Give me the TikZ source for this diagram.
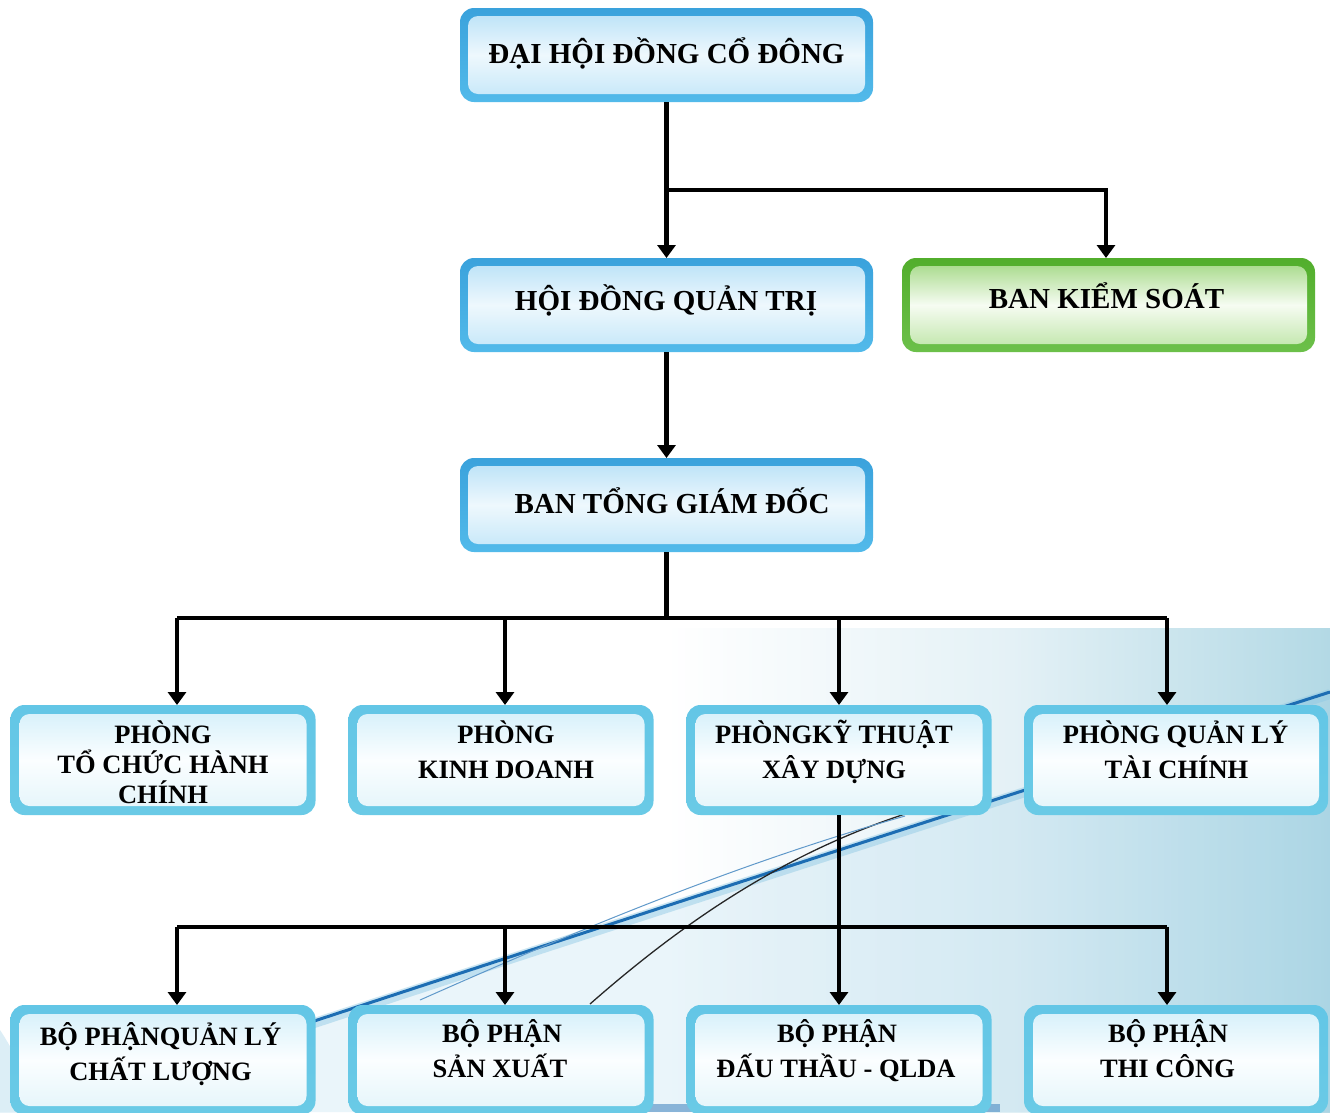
\documentclass[tikz,border=0pt]{standalone}
\usepackage{fontspec}
\setmainfont{Liberation Serif}
\usetikzlibrary{arrows.meta,calc}
\definecolor{mbt}{HTML}{3AA2DC}
\definecolor{mbb}{HTML}{52BAEA}
\definecolor{mit}{HTML}{B6E0F7}
\definecolor{mim}{HTML}{EEF8FD}
\definecolor{mib}{HTML}{C2E6F9}
\definecolor{rbt}{HTML}{63C6E6}
\definecolor{rbb}{HTML}{6ACAE6}
\definecolor{rit}{HTML}{D2EFFA}
\definecolor{rim}{HTML}{FBFEFF}
\definecolor{rib}{HTML}{E2F4FA}
\definecolor{gbt}{HTML}{52AE2C}
\definecolor{gbb}{HTML}{6CC04A}
\definecolor{git}{HTML}{9ED67E}
\definecolor{gim}{HTML}{F6FCF2}
\definecolor{gib}{HTML}{BCE4A4}
\definecolor{bgB}{HTML}{E4F1F6}
\definecolor{bgC}{HTML}{B3D9E5}
\definecolor{swoosh}{HTML}{1C6DB3}
\definecolor{glow}{HTML}{8CC8E4}
\pgfdeclarehorizontalshading{bgsh}{100bp}{color(0bp)=(white); color(25bp)=(white); color(50bp)=(white); color(63bp)=(bgB); color(75bp)=(bgC); color(100bp)=(bgC)}
\tikzset{
  box/.style={rounded corners=14pt, inner sep=0pt, outer sep=0pt},
  mainbox/.style={box, minimum width=413pt, minimum height=94pt,
    top color=mbt, bottom color=mbb,
    path picture={\shade[top color=mit, bottom color=mib, middle color=mim, rounded corners=10pt]
      ([shift={(8pt,-8pt)}]path picture bounding box.north west) rectangle
      ([shift={(-8pt,8pt)}]path picture bounding box.south east);}},
  greenbox/.style={box, minimum width=413pt, minimum height=94pt,
    top color=gbt, bottom color=gbb,
    path picture={\shade[top color=git, bottom color=gib, middle color=gim, rounded corners=10pt]
      ([shift={(8pt,-8pt)}]path picture bounding box.north west) rectangle
      ([shift={(-8pt,8pt)}]path picture bounding box.south east);}},
  rowbox/.style={box, minimum width=305pt, minimum height=110pt,
    top color=rbt, bottom color=rbb,
    path picture={\shade[top color=rit, bottom color=rib, middle color=rim, rounded corners=10pt]
      ([shift={(9pt,-9pt)}]path picture bounding box.north west) rectangle
      ([shift={(-9pt,9pt)}]path picture bounding box.south east);}},
  mlbl/.style={font=\bfseries\fontsize{29}{35}\selectfont, inner sep=0pt, anchor=base},
  rlbl/.style={font=\bfseries\fontsize{26.5}{33}\selectfont, inner sep=0pt, anchor=base},
  wire/.style={line width=4.2pt, black},
  conn/.style={wire, -{Triangle[width=18pt,length=13pt]}}
}
\begin{document}
\begin{tikzpicture}[x=1pt,y=-1pt]
\useasboundingbox (0,0) rectangle (1330,1112);
\clip (0,0) rectangle (1330,1112);
% background scene
\fill[white] (0,0) rectangle (1330,1112);
\shade[shading=bgsh] (0,628) rectangle (1330,1112);
\fill[glow, opacity=0.18] (0,1112) -- (0,1125) .. controls (450,975) and (900,830) .. (1330,692) -- (1330,1112) -- cycle;
\fill[glow, opacity=0.3] (0,1112) -- (0,1030) .. controls (20,1060) and (30,1090) .. (40,1112) -- cycle;
\draw[glow, line width=10pt, opacity=0.45] (0,1127) .. controls (450,977) and (900,832) .. (1330,694);
\draw[swoosh, line width=3pt] (0,1125) .. controls (450,975) and (900,830) .. (1330,692);
\draw[black!85, line width=1.3pt] (590,1004) .. controls (680,925) and (780,855) .. (905,814);
\draw[swoosh!70, line width=1pt] (420,1000) .. controls (600,920) and (750,860) .. (905,816);
\fill[swoosh!80, opacity=0.6] (640,1104) rectangle (1000,1112);

% boxes
\node[mainbox] (b0) at (666.5,55) {};
\node[mainbox] (b1) at (666.5,305) {};
\node[greenbox] (b2) at (1108.5,305) {};
\node[mainbox] (b3) at (666.5,505) {};
\node[rowbox] (r1) at (163,760) {};
\node[rowbox] (r2) at (501,760) {};
\node[rowbox] (r3) at (839,760) {};
\node[rowbox, minimum width=304pt] (r4) at (1176,760) {};
\node[rowbox] (q1) at (163,1060) {};
\node[rowbox] (q2) at (501,1060) {};
\node[rowbox] (q3) at (839,1060) {};
\node[rowbox, minimum width=304pt] (q4) at (1176,1060) {};

% labels
\node[mlbl] (t0) at (666.5,63) {ĐẠI HỘI ĐỒNG CỔ ĐÔNG};
\node[mlbl] (t1) at (666,310) {HỘI ĐỒNG QUẢN TRỊ};
\node[mlbl] (t2) at (1106.5,308) {BAN KIỂM SOÁT};
\node[mlbl] (t3) at (672,513) {BAN TỔNG GIÁM ĐỐC};
\node[rlbl] (r1a) at (163,743) {PHÒNG};
\node[rlbl] (r1b) at (163,773) {TỔ CHỨC HÀNH};
\node[rlbl] (r1c) at (163,803) {CHÍNH};
\node[rlbl] (r2a) at (506,743) {PHÒNG};
\node[rlbl] (r2b) at (506,778) {KINH DOANH};
\node[rlbl] (r3a) at (834,743) {PHÒNGKỸ THUẬT};
\node[rlbl] (r3b) at (834,778) {XÂY DỰNG};
\node[rlbl] (r4a) at (1175.5,743) {PHÒNG QUẢN LÝ};
\node[rlbl] (r4b) at (1176.5,778) {TÀI CHÍNH};
\node[rlbl] (q1a) at (160.5,1045) {BỘ PHẬNQUẢN LÝ};
\node[rlbl] (q1b) at (160.5,1080) {CHẤT LƯỢNG};
\node[rlbl] (q2a) at (502,1042) {BỘ PHẬN};
\node[rlbl] (q2b) at (500,1077) {SẢN XUẤT};
\node[rlbl] (q3a) at (837,1042) {BỘ PHẬN};
\node[rlbl] (q3b) at (836,1077) {ĐẤU THẦU - QLDA};
\node[rlbl] (q4a) at (1168,1042) {BỘ PHẬN};
\node[rlbl] (q4b) at (1167.5,1077) {THI CÔNG};

% connector points
\coordinate (j1) at (666.5,190);
\coordinate (h2) at (666.5,618);
\coordinate (h3) at (839,927);
\coordinate (b2t) at ([xshift=-2.5pt]b2.north);
\coordinate (r1t) at ([xshift=14pt]r1.north);
\coordinate (r2t) at ([xshift=4pt]r2.north);
\coordinate (r3t) at (r3.north);
\coordinate (r4t) at ([xshift=-9pt]r4.north);
\coordinate (q1t) at ([xshift=14pt]q1.north);
\coordinate (q2t) at ([xshift=4pt]q2.north);
\coordinate (q3t) at (q3.north);
\coordinate (q4t) at ([xshift=-9pt]q4.north);

% connectors
\draw[conn] (b0.south) -- (b1.north);
\draw[conn] (j1) -| (b2t);
\draw[conn] (b1.south) -- (b3.north);
\draw[wire] (b3.south) -- (h2);
\draw[wire] (r1t |- h2) -- (r4t |- h2);
\draw[conn] (r1t |- h2) -- (r1t);
\draw[conn] (r2t |- h2) -- (r2t);
\draw[conn] (h2 -| r3t) -- (r3t);
\draw[conn] (r4t |- h2) -- (r4t);
\draw[wire] (q1t |- h3) -- (q4t |- h3);
\draw[conn] (r3.south) -- (q3t);
\draw[conn] (q1t |- h3) -- (q1t);
\draw[conn] (q2t |- h3) -- (q2t);
\draw[conn] (q4t |- h3) -- (q4t);
\end{tikzpicture}
\end{document}
